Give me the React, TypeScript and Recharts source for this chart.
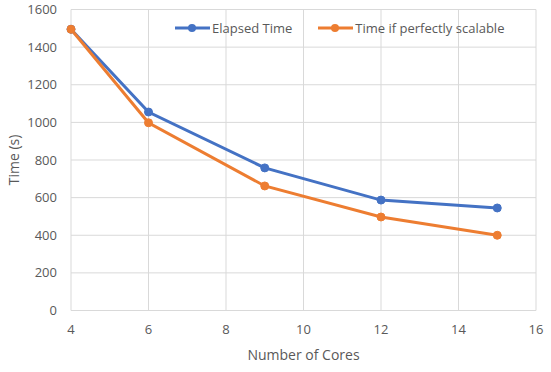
import React from 'react';
import { LineChart, Line, XAxis, YAxis, CartesianGrid, Legend, Label } from 'recharts';

const cores = [4, 6, 9, 12, 15];
const elapsedTime = [1495, 1055, 758, 587, 545];
const perfectTime = [1495, 998, 662, 497, 400];
const xTicks = [4, 6, 8, 10, 12, 14, 16];
const yTicks = [0, 200, 400, 600, 800, 1000, 1200, 1400, 1600];

const data = cores.map((c, i) => ({ cores: c, elapsed: elapsedTime[i], perfect: perfectTime[i] }));

const FONT = '"Open Sans", "Noto Sans", sans-serif';
const TEXT = '#595959';
const GRID = '#D9D9D9';
const BLUE = '#4472C4';
const ORANGE = '#ED7D31';

const LegendContent = (props: any) => {
  const { payload } = props;
  return (
    <div style={{ display: 'flex', alignItems: 'center', fontFamily: FONT, fontSize: 13, color: TEXT }}>
      {(payload || []).map((p: any, i: number) => (
        <div key={i} style={{ display: 'flex', alignItems: 'center', marginRight: i === 0 ? 26 : 0 }}>
          <svg width={35} height={10} style={{ marginRight: 2 }}>
            <line x1={0} y1={5} x2={35} y2={5} stroke={p.color} strokeWidth={3} />
            <circle cx={17} cy={5} r={4} fill={p.color} />
          </svg>
          <span>{p.value}</span>
        </div>
      ))}
    </div>
  );
};

const YLabel = (props: any) => {
  const vb = props.viewBox || {};
  const cx = 13;
  const cy = vb.y + vb.height / 2;
  return (
    <text
      x={cx}
      y={cy}
      transform={`rotate(-90, ${cx}, ${cy})`}
      textAnchor="middle"
      dominantBaseline="central"
      fill={TEXT}
      fontFamily={FONT}
      fontSize={14}
    >
      Time (s)
    </text>
  );
};

export default function App() {
  return (
    <div style={{ position: 'absolute', left: 0, top: 0, width: 551, height: 372, background: '#fff' }}>
      <LineChart width={551} height={372} data={data} margin={{ top: 9.5, right: 15, left: 0, bottom: 0 }}>
        <CartesianGrid stroke={GRID} strokeWidth={1} />
        <XAxis
          dataKey="cores"
          type="number"
          domain={[4, 16]}
          ticks={xTicks}
          height={61.5}
          axisLine={{ stroke: GRID }}
          tickLine={false}
          tickMargin={8}
          tick={{ fill: TEXT, fontSize: 13, fontFamily: FONT }}
          interval={0}
        >
          <Label value="Number of Cores" position="insideBottom" offset={12} fill={TEXT} fontSize={14} fontFamily={FONT} />
        </XAxis>
        <YAxis
          type="number"
          domain={[0, 1600]}
          ticks={yTicks}
          width={71}
          axisLine={false}
          tickLine={false}
          tickMargin={8}
          tick={{ fill: TEXT, fontSize: 13, fontFamily: FONT }}
          interval={0}
        >
          <Label content={<YLabel />} />
        </YAxis>
        <Legend
          layout="horizontal"
          verticalAlign="middle"
          align="center"
          content={<LegendContent />}
          wrapperStyle={{ position: 'absolute', top: 19, left: 175, width: 'auto' }}
        />
        <Line
          name="Elapsed Time"
          dataKey="elapsed"
          stroke={BLUE}
          strokeWidth={3}
          dot={{ r: 4, fill: BLUE, stroke: BLUE, strokeWidth: 1 }}
          activeDot={false}
          isAnimationActive={false}
        />
        <Line
          name="Time if perfectly scalable"
          dataKey="perfect"
          stroke={ORANGE}
          strokeWidth={3}
          dot={{ r: 4, fill: ORANGE, stroke: ORANGE, strokeWidth: 1 }}
          activeDot={false}
          isAnimationActive={false}
        />
      </LineChart>
    </div>
  );
}
